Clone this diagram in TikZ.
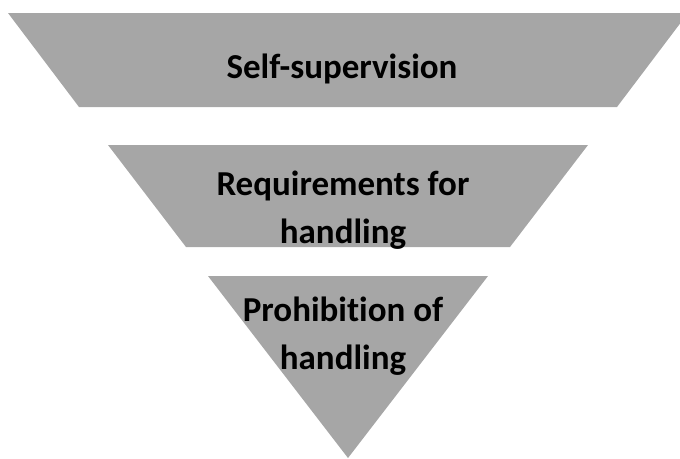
\documentclass[tikz,border=0pt]{standalone}
\usepackage{fontspec}
\setmainfont[Ligatures=NoCommon]{Carlito}
\usepackage{xcolor}
\usepackage{tikz}
\usetikzlibrary{positioning}

\definecolor{bandgray}{HTML}{A6A6A6}

\begin{document}
\begin{tikzpicture}[
   x=1pt, y=-1pt,
   band/.style={fill=bandgray, draw=none},
   level/.style={font=\bfseries\fontsize{35}{48.5}\selectfont, align=center, text=black, inner sep=0pt}
]
   \useasboundingbox (0,0) rectangle (680,458);
   \clip (0,0) rectangle (680,458);

   % Bands of the funnel
   \fill[band] (8,13) -- (688,13) -- (617,107) -- (79,107) -- cycle;
   \fill[band] (108,145) -- (588,145) -- (510,247) -- (186,247) -- cycle;
   \fill[band] (208,276) -- (488,276) -- (348,458) -- cycle;

   % Labels
   \node[level, anchor=base] (top) at (342,78) {Self-supervision};
   \node[level] (mid) at (343,210) {Requirements for\\handling};
   \node[level] (low) at (343,336) {Prohibition of\\handling};
\end{tikzpicture}
\end{document}
